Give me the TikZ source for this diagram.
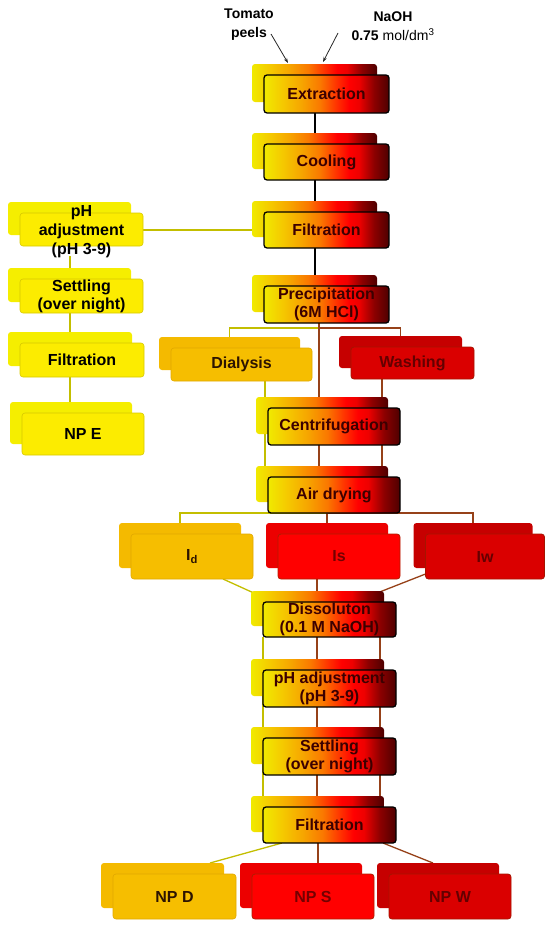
\documentclass[tikz,border=0pt]{standalone}
\usepackage{fontspec}
\setmainfont{Liberation Sans}
\usetikzlibrary{calc,arrows.meta}
\definecolor{s0}{RGB}{240,234,0}
\definecolor{s1}{RGB}{245,200,0}
\definecolor{s2}{RGB}{246,165,0}
\definecolor{s3}{RGB}{250,120,0}
\definecolor{s4}{RGB}{255,50,0}
\definecolor{s5}{RGB}{255,0,0}
\definecolor{s6}{RGB}{238,0,0}
\definecolor{s7}{RGB}{140,0,0}
\definecolor{s8}{RGB}{78,0,0}
\definecolor{mtext}{RGB}{60,0,0}
\definecolor{yfill}{RGB}{252,236,0}
\definecolor{yback}{RGB}{245,238,0}
\definecolor{yedge}{RGB}{215,200,0}
\definecolor{ofill}{RGB}{246,190,0}
\definecolor{oback}{RGB}{244,186,0}
\definecolor{oedge}{RGB}{225,168,0}
\definecolor{otext}{RGB}{45,20,0}
\definecolor{rfill}{RGB}{255,0,0}
\definecolor{rback}{RGB}{236,0,0}
\definecolor{redge}{RGB}{175,30,0}
\definecolor{rtext}{RGB}{115,0,0}
\definecolor{dfill}{RGB}{218,0,0}
\definecolor{dback}{RGB}{198,0,0}
\definecolor{dedge}{RGB}{165,20,0}
\definecolor{dtext}{RGB}{100,0,0}
\definecolor{olivel}{RGB}{195,190,0}
\definecolor{brownl}{RGB}{150,65,25}
\pgfdeclarehorizontalshading{stepshade}{100bp}{color(0bp)=(s0); color(25bp)=(s0); color(32.5bp)=(s1); color(40bp)=(s2); color(47.5bp)=(s3); color(54bp)=(s4); color(59bp)=(s5); color(63bp)=(s6); color(69bp)=(s7); color(75bp)=(s8); color(100bp)=(s8)}
\pgfdeclarelayer{lines}
\pgfdeclarelayer{backs}
\pgfsetlayers{lines,backs,main}
\newcommand{\boxfont}{\fontsize{16}{18}\selectfont\bfseries}
% #1 kind, #2 options, #3 name, #4 position, #5 text
\newcommand{\twobox}[5]{%
  \node[#1F,#2] (#3) at (#4) {#5};
  \begin{pgfonlayer}{backs}
    \node[#1B,#2] (#3B) at ($(#3)+(-12,-11)$) {};
  \end{pgfonlayer}}
\begin{document}
\begin{tikzpicture}[x=1pt,y=-1pt,
  box/.style={rounded corners=3pt, inner sep=0pt, outer sep=0pt, align=center, font=\boxfont},
  mainF/.style={box, shade, shading=stepshade, draw=black, line width=1.3pt, text=mtext, minimum width=125pt, minimum height=36pt},
  mainB/.style={box, shade, shading=stepshade, draw=none, minimum width=125pt, minimum height=36pt},
  yelF/.style={box, fill=yfill, draw=yedge, line width=0.6pt, text=black},
  yelB/.style={box, fill=yback, draw=none},
  oraF/.style={box, fill=ofill, draw=oedge, line width=0.6pt, text=otext},
  oraB/.style={box, fill=oback, draw=none},
  redF/.style={box, fill=rfill, draw=redge, line width=0.8pt, text=rtext},
  redB/.style={box, fill=rback, draw=none},
  drF/.style={box, fill=dfill, draw=dedge, line width=0.8pt, text=dtext},
  drB/.style={box, fill=dback, draw=none},
  oline/.style={draw=olivel, line width=1.3pt},
  bline/.style={draw=brownl, line width=1.3pt},
  kline/.style={draw=black, line width=1.4pt},
  arr/.style={draw=black!85, line width=0.8pt, -{Stealth[length=5pt,width=3.5pt]}},
  toptext/.style={align=center, inner sep=0pt, font=\fontsize{14}{19}\selectfont, text=black}
  ]
\useasboundingbox (0,0) rectangle (550,926);

% top labels
\node[toptext] (tom) at (249,25) {\bfseries Tomato\\\bfseries peels};
\node[toptext] (naoh) at (393,26) {\bfseries NaOH\\\textbf{0.75} mol/dm\textsuperscript{3}};

% main column
\twobox{main}{minimum height=38pt}{ext}{326.5,94}{Extraction}
\twobox{main}{}{cool}{326.5,162}{Cooling}
\twobox{main}{}{filtA}{326.5,230}{Filtration}
\twobox{main}{minimum height=37pt}{prec}{326.5,304.5}{Precipitation\\(6M HCl)}
\twobox{main}{minimum width=132pt, minimum height=37pt}{cent}{334,426.5}{Centrifugation}
\twobox{main}{minimum width=132pt}{air}{334,495}{Air drying}
\twobox{main}{minimum width=133pt, minimum height=35pt}{dis}{329.5,619.5}{Dissoluton\\(0.1 M NaOH)}
\twobox{main}{minimum width=133pt, minimum height=37pt}{phM}{329.5,688.5}{pH adjustment\\(pH 3-9)}
\twobox{main}{minimum width=133pt, minimum height=37pt}{setM}{329.5,756.5}{Settling\\(over night)}
\twobox{main}{minimum width=133pt}{filtC}{329.5,825}{Filtration}

% left column
\twobox{yel}{minimum width=123pt, minimum height=33pt}{phA}{81.5,229.5}{}
\node[box, text=black, font=\fontsize{16}{19}\selectfont\bfseries] (phAt) at ($(phA)+(0,2)$) {pH\\adjustment\\(pH 3-9)};
\twobox{yel}{minimum width=123pt, minimum height=34pt}{setA}{81.5,296}{Settling\\(over night)}
\twobox{yel}{minimum width=124pt, minimum height=34pt}{filtL}{82,360}{Filtration}
\twobox{yel}{minimum width=122pt, minimum height=42pt}{npE}{83,434}{NP E}

% side boxes
\twobox{ora}{minimum width=141pt, minimum height=33pt}{dial}{241.5,364.5}{Dialysis}
\twobox{dr}{minimum width=123pt, minimum height=32pt}{wash}{412.5,363}{Washing}
\twobox{ora}{minimum width=122pt, minimum height=45pt}{Id}{192,556.5}{I\textsubscript{d}}
\twobox{red}{minimum width=122pt, minimum height=45pt}{Is}{339,556.5}{Is}
\twobox{dr}{minimum width=119pt, minimum height=45pt}{Iw}{485,556.5}{Iw}
\twobox{ora}{minimum width=123pt, minimum height=45pt}{npD}{174.5,896.5}{NP D}
\twobox{red}{minimum width=122pt, minimum height=45pt}{npS}{313,896.5}{NP S}
\twobox{dr}{minimum width=122pt, minimum height=45pt}{npW}{450,896.5}{NP W}

\begin{pgfonlayer}{lines}
  \coordinate (c70) at (70,0);
  \coordinate (cK) at (315,0);
  \coordinate (c265) at (265,0);
  \coordinate (c382) at (382,0);
  \coordinate (c263) at (263,0);
  \coordinate (c317) at (317,0);
  \coordinate (c380) at (380,0);
  \coordinate (c282) at (282,0);
  \coordinate (c210) at (210,0);
  \coordinate (c318) at (318,0);
  \coordinate (c383) at (383,0);
  \coordinate (c433) at (433,0);
  \coordinate (c230) at (0,230);
  \coordinate (pj) at (319,328);
  \coordinate (tomS) at (271,34);
  \coordinate (naS) at (338,33);

  % arrows into extraction
  \draw[arr] (tomS) -- ($(extB.north west)+(36,-1)$);
  \draw[arr] (naS) -- ($(extB.north west)+(71,-2)$);

  % main black line
  \draw[kline] (ext.south -| cK) -- (precB.north -| cK);

  % left branch
  \draw[oline] (phA.east |- c230) -- (filtAB.west |- c230);
  \draw[oline] ($(phA.south -| c70)+(0,10)$) -- (npEB.north -| c70);

  % precipitation branches
  \draw[oline] (dialB.north) |- (pj);
  \draw[bline] (washB.north) |- (pj);
  \draw[bline] (prec.south -| pj) -- (airB.north -| pj);
  \draw[oline] (dial.south -| c265) -- (airB.north -| c265);
  \draw[bline] (wash.south -| c382) -- (airB.north -| c382);

  % air drying branches
  \draw[oline] (IdB.north) |- (IsB.north |- air.south);
  \draw[bline] (IwB.north) |- (IsB.north |- air.south) -- (IsB.north);

  % into dissolution
  \draw[oline] ($(Id.south east)+(-30,0)$) -- ($(disB.north west)+(16,8)$);
  \draw[bline] (Is.south -| c317) -- (disB.north -| c317);
  \draw[bline] ($(Iw.south west)+(0,-5)$) -- ($(disB.north east)+(-12,4)$);

  % three parallel lines
  \draw[oline] (dis.south -| c263) -- (filtCB.north -| c263);
  \draw[bline] (dis.south -| c317) -- (filtCB.north -| c317);
  \draw[bline] (dis.south -| c380) -- (filtCB.north -| c380);

  % final branches
  \draw[oline] (filtC.south -| c282) -- (npDB.north -| c210);
  \draw[bline] (filtC.south -| c318) -- (npSB.north -| c318);
  \draw[bline] (filtC.south -| c383) -- (npWB.north -| c433);
\end{pgfonlayer}
\end{tikzpicture}
\end{document}
